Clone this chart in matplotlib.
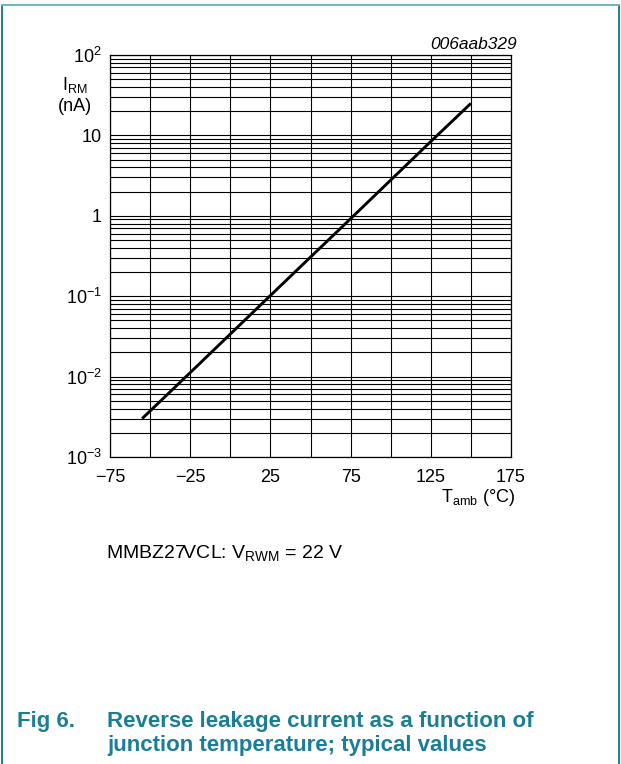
import matplotlib
matplotlib.use("Agg")
import matplotlib.pyplot as plt
from matplotlib.ticker import FixedLocator, FixedFormatter, LogLocator, NullFormatter
import numpy as np

plt.rcParams['font.family'] = ['Liberation Sans', 'DejaVu Sans']
plt.rcParams['mathtext.fontset'] = 'custom'
plt.rcParams['mathtext.rm'] = 'Liberation Sans'
plt.rcParams['mathtext.it'] = 'Liberation Sans:italic'
plt.rcParams['mathtext.bf'] = 'Liberation Sans:bold'

# Data
temp_c = [-55, -25, 25, 75, 125, 150]
leak_na = [3.0e-3, 1.12e-2, 0.102, 0.92, 8.4, 25.0]

x_ticks = [-75, -25, 25, 75, 125, 175]
x_tick_labels = ['\u221275', '\u221225', '25', '75', '125', '175']
x_grid = [-75, -50, -25, 0, 25, 50, 75, 100, 125, 150, 175]
y_ticks = [1e-3, 1e-2, 1e-1, 1, 10, 100]
y_tick_labels = [r'$\mathregular{10^{-3}}$', r'$\mathregular{10^{-2}}$', r'$\mathregular{10^{-1}}$',
                 '1', '10', r'$\mathregular{10^{2}}$']

teal = '#1b7e97'

fig = plt.figure(figsize=(6.21, 7.64), dpi=100)

# frame border
fig.add_artist(plt.Line2D([0.0025, 0.0025], [0, 0.9935], color=teal, lw=1.4, transform=fig.transFigure))
fig.add_artist(plt.Line2D([0.9975, 0.9975], [0, 0.9935], color=teal, lw=1.4, transform=fig.transFigure))
fig.add_artist(plt.Line2D([0.0025, 0.9975], [0.9935, 0.9935], color='#6fb3c3', lw=1.4, transform=fig.transFigure))

ax = fig.add_axes([110/621, 1 - 457/764, 401/621, 402/764])
ax.set_yscale('log')
ax.set_xlim(-75, 175)
ax.set_ylim(1e-3, 1e2)

ax.plot(temp_c, leak_na, color='black', lw=2.1, solid_capstyle='butt', zorder=5)

ax.xaxis.set_major_locator(FixedLocator(x_ticks))
ax.xaxis.set_major_formatter(FixedFormatter(x_tick_labels))
ax.xaxis.set_minor_locator(FixedLocator(x_grid))
ax.yaxis.set_major_locator(FixedLocator(y_ticks))
ax.yaxis.set_major_formatter(FixedFormatter(y_tick_labels))
ax.yaxis.set_minor_locator(LogLocator(base=10, subs=np.arange(2, 10)))
ax.yaxis.set_minor_formatter(NullFormatter())

ax.grid(True, which='both', axis='both', color='black', lw=0.8)
ax.tick_params(which='both', length=0)
ax.tick_params(axis='x', pad=9, labelsize=13)
ax.tick_params(axis='y', pad=6, labelsize=13)
for s in ax.spines.values():
    s.set_linewidth(0.9)
    s.set_color('black')

ax.set_ylabel('I$_{\\mathregular{RM}}$\n(nA)', rotation=0, fontsize=13, ha='center', va='center',
              linespacing=1.25)
ax.yaxis.set_label_coords(-0.087, 0.9)
ax.set_xlabel('T$_{\\mathregular{amb}}$ (\u00b0C)', fontsize=13, ha='right', va='center')
ax.xaxis.set_label_coords(1.01, -0.1)

ax.text(1.015, 1.027, '006aab329', transform=ax.transAxes, ha='right', va='center',
        fontsize=12.5, style='italic')

fig.text(106/621, 1 - 553/764, 'MMBZ27VCL: V$_{\\mathregular{RWM}}$ = 22 V', fontsize=14,
         ha='left', va='center')

fig.text(17/621, 1 - 722/764, 'Fig 6.', fontsize=16, fontweight='bold', color=teal,
         ha='left', va='center')
fig.text(107/621, 1 - 722/764, 'Reverse leakage current as a function of', fontsize=16,
         fontweight='bold', color=teal, ha='left', va='center')
fig.text(107/621, 1 - 746/764, 'junction temperature; typical values', fontsize=16,
         fontweight='bold', color=teal, ha='left', va='center')

fig.savefig('out.png', dpi=100)
